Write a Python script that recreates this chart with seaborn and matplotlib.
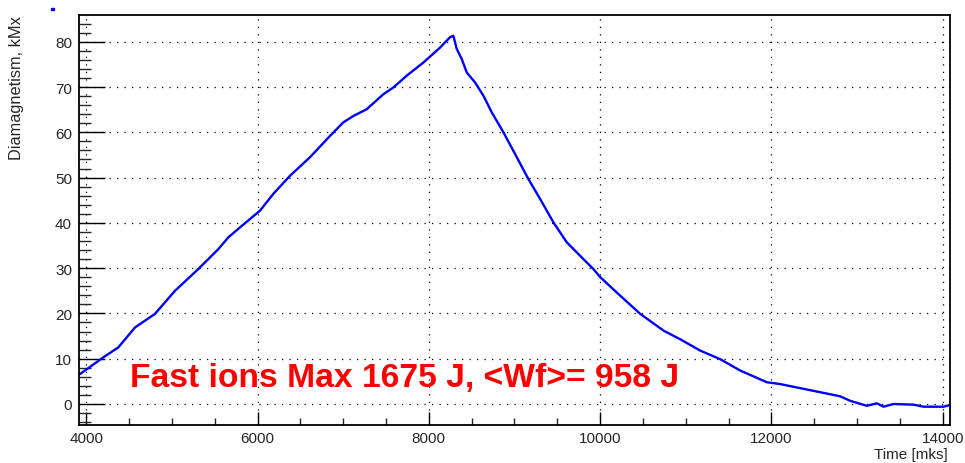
import matplotlib
matplotlib.use("Agg")
import matplotlib.pyplot as plt
import seaborn as sns
import pandas as pd
from matplotlib.ticker import MultipleLocator
from matplotlib.patches import Rectangle

# ---- data ----
time_mks = [3926, 4199, 4374, 4569, 4802, 5036, 5308, 5542, 5659, 5795, 6029, 6184,
            6379, 6613, 6846, 7002, 7119, 7275, 7469, 7586, 7742, 7936, 8131, 8248,
            8287, 8326, 8384, 8443, 8540, 8637, 8735, 8871, 9027, 9162, 9299, 9455,
            9611, 9805, 9922, 10002, 10236, 10469, 10741, 10935, 11168, 11402, 11635,
            11947, 12103, 12336, 12570, 12803, 12920, 13115, 13232, 13310, 13427,
            13660, 13777, 14011, 14089]
diamagnetism_kmx = [6.6, 10.3, 12.5, 16.9, 19.9, 25.0, 29.8, 34.2, 36.8, 39.0, 42.7, 46.4,
                    50.4, 54.5, 59.2, 62.2, 63.6, 65.1, 68.4, 69.9, 72.5, 75.4, 78.7, 81.0,
                    81.3, 78.4, 76.2, 73.2, 71.0, 68.1, 64.4, 60.0, 54.5, 49.7, 45.3, 40.1,
                    35.7, 32.0, 29.8, 28.0, 23.9, 19.9, 16.2, 14.3, 11.8, 9.9, 7.4,
                    4.8, 4.4, 3.5, 2.6, 1.7, 0.7, -0.4, 0.15, -0.6, 0.0,
                    -0.15, -0.6, -0.6, -0.2]
x_label = "Time [mks]"
y_label = "Diamagnetism, kMx"
annotation = "Fast ions Max 1675 J, <Wf>= 958 J"

sns.set_theme(style="white")
plt.rcParams["font.family"] = ["Liberation Sans", "DejaVu Sans"]

W, H = 965, 464
fig = plt.figure(figsize=(W / 100, H / 100), dpi=100)
L, R, T, B = 79, 950, 16, 426
ax = fig.add_axes([L / W, 1 - B / H, (R - L) / W, (B - T) / H])

df = pd.DataFrame({"time": time_mks, "dia": diamagnetism_kmx})
sns.lineplot(data=df, x="time", y="dia", ax=ax, color="#0000ff", linewidth=1.7,
             sort=False, estimator=None)

ax.set_xlim(3915, 14086)
ax.set_ylim(-4.64, 85.9)

ax.xaxis.set_major_locator(MultipleLocator(2000))
ax.xaxis.set_minor_locator(MultipleLocator(500))
ax.yaxis.set_major_locator(MultipleLocator(10))
ax.yaxis.set_minor_locator(MultipleLocator(2))

ax.grid(True, which="major", color="black", linestyle=(0, (1, 5)), linewidth=0.9)
ax.grid(False, which="minor")

tick_color = "#262626"
ax.tick_params(axis="x", which="major", direction="in", length=9.5, width=1.0,
               bottom=True, top=False, pad=4, labelsize=11, labelcolor=tick_color, color="black")
ax.tick_params(axis="x", which="minor", direction="in", length=5, width=1.0,
               bottom=True, top=False)
ax.tick_params(axis="y", which="major", direction="in", length=18.5, width=1.0,
               left=True, right=False, pad=5, labelsize=11, labelcolor=tick_color, color="black")
ax.tick_params(axis="y", which="minor", direction="in", length=8.5, width=1.0,
               left=True, right=False)

for s in ax.spines.values():
    s.set_color("black")
    s.set_linewidth(1.3)
    s.set_visible(True)

ax.set_xlabel("")
ax.set_ylabel("")
fig.text(948 / W, 1 - 455 / H, x_label, ha="right", va="center", fontsize=11, color=tick_color)
fig.text(17 / W, 1 - 16 / H, y_label, ha="center", va="top", rotation=90, fontsize=11.8,
         color=tick_color)

ax.text(4510, 4.0, annotation, color="#ff0000", fontsize=24.2, fontweight="bold",
        ha="left", va="baseline")

fig.patches.append(Rectangle((51 / W, 1 - 11 / H), 3 / W, 2 / H, transform=fig.transFigure,
                             color="#0000ff", figure=fig))

fig.savefig("out.png", dpi=100, facecolor="white")
